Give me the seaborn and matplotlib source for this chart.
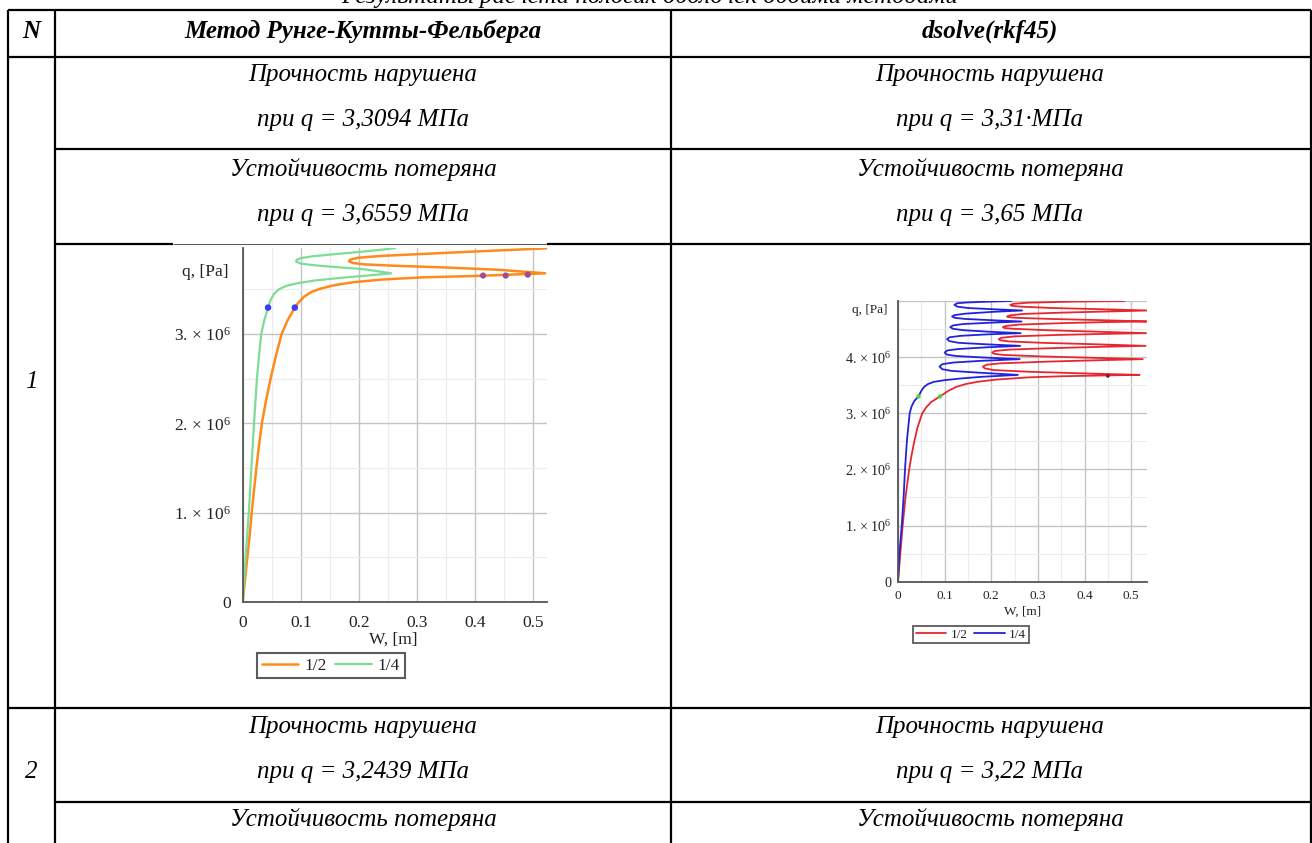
import numpy as np
import pandas as pd
import matplotlib
matplotlib.use("Agg")
import matplotlib.pyplot as plt
import seaborn as sns
from matplotlib.lines import Line2D
from matplotlib.ticker import MultipleLocator, FuncFormatter

# ---------------- data ----------------
title_text = "Результаты расчета пологих оболочек обоими методами"
col_headers = ["N", "Метод Рунге-Кутты-Фельберга", "dsolve(rkf45)"]
row_numbers = ["1", "2"]
rkf_texts = ["Прочность нарушена", "при q = 3,3094 МПа",
             "Устойчивость потеряна", "при q = 3,6559 МПа",
             "Прочность нарушена", "при q = 3,2439 МПа",
             "Устойчивость потеряна"]
dsolve_texts = ["Прочность нарушена", "при q = 3,31·МПа",
                "Устойчивость потеряна", "при q = 3,65 МПа",
                "Прочность нарушена", "при q = 3,22 МПа",
                "Устойчивость потеряна"]
legend_labels = ["1/2", "1/4"]

# left plot (Runge-Kutta-Fehlberg): W in m, q in MPa
rkf_half_W = [0, 0.004, 0.008, 0.012, 0.0155, 0.0195, 0.0235, 0.028, 0.033, 0.040,
              0.048, 0.057, 0.067, 0.077, 0.0897, 0.097, 0.106, 0.118, 0.135, 0.16,
              0.19, 0.24, 0.31, 0.40, 0.46, 0.521,
              0.44, 0.35, 0.26, 0.21, 0.19, 0.183, 0.186, 0.2, 0.24, 0.32, 0.42, 0.524]
rkf_half_q = [0, 0.25, 0.5, 0.75, 1.0, 1.25, 1.5, 1.75, 2.0, 2.25,
              2.5, 2.75, 3.0, 3.15, 3.296, 3.36, 3.42, 3.47, 3.51, 3.55,
              3.58, 3.61, 3.635, 3.65, 3.665, 3.68,
              3.72, 3.745, 3.765, 3.78, 3.795, 3.815, 3.835, 3.855, 3.875, 3.90, 3.93, 3.96]
rkf_quarter_W = [0, 0.005, 0.0105, 0.015, 0.0195, 0.0245, 0.028, 0.032, 0.037, 0.0437,
                 0.048, 0.054, 0.062, 0.075, 0.095, 0.125, 0.17, 0.215, 0.256,
                 0.21, 0.16, 0.12, 0.10, 0.092, 0.093, 0.10, 0.12, 0.16, 0.21, 0.262]
rkf_quarter_q = [0, 0.5, 1.0, 1.5, 2.0, 2.5, 2.75, 3.0, 3.15, 3.296,
                 3.38, 3.45, 3.50, 3.54, 3.57, 3.60, 3.63, 3.655, 3.68,
                 3.725, 3.75, 3.772, 3.79, 3.81, 3.83, 3.85, 3.87, 3.895, 3.925, 3.96]
rkf_strength_W = [0.0437, 0.0897]
rkf_strength_q = [3.296, 3.296]
rkf_stab_W = [0.414, 0.453, 0.491]
rkf_stab_q = [3.655, 3.655, 3.665]

# right plot (dsolve rkf45): W in m, q in MPa
ds_half_W = [0, 0.005, 0.01, 0.016, 0.024, 0.029, 0.035, 0.042, 0.052, 0.060, 0.071,
             0.09, 0.108, 0.125,
             0.145, 0.17, 0.21, 0.28, 0.354, 0.45, 0.518,
             0.40, 0.28, 0.205, 0.186, 0.182, 0.19, 0.22, 0.32, 0.43, 0.525,
             0.41, 0.30, 0.225, 0.206, 0.202, 0.208, 0.24, 0.33, 0.44, 0.531,
             0.42, 0.31, 0.238, 0.219, 0.216, 0.222, 0.25, 0.34, 0.45, 0.532,
             0.42, 0.32, 0.247, 0.228, 0.225, 0.231, 0.26, 0.35, 0.45, 0.533,
             0.43, 0.33, 0.255, 0.237, 0.234, 0.24, 0.27, 0.36, 0.46, 0.536,
             0.43, 0.33, 0.262, 0.244, 0.241, 0.248, 0.28, 0.38, 0.486]
ds_half_q = [0, 0.5, 1.0, 1.5, 2.0, 2.25, 2.5, 2.75, 3.0, 3.1, 3.2,
             3.30, 3.40, 3.47,
             3.52, 3.56, 3.60, 3.64, 3.66, 3.675, 3.684,
             3.71, 3.74, 3.77, 3.80, 3.832, 3.865, 3.89, 3.92, 3.945, 3.964,
             3.99, 4.015, 4.04, 4.06, 4.082, 4.11, 4.135, 4.16, 4.185, 4.201,
             4.23, 4.255, 4.28, 4.30, 4.321, 4.345, 4.37, 4.395, 4.415, 4.427,
             4.455, 4.48, 4.505, 4.52, 4.535, 4.555, 4.58, 4.605, 4.625, 4.635,
             4.66, 4.68, 4.70, 4.712, 4.724, 4.745, 4.77, 4.795, 4.815, 4.831,
             4.855, 4.875, 4.90, 4.915, 4.932, 4.95, 4.97, 4.99, 5.0]
ds_quarter_W = [0, 0.003, 0.008, 0.012, 0.015, 0.019, 0.022, 0.025, 0.029, 0.035, 0.044, 0.050,
                0.056, 0.064, 0.077, 0.10, 0.135, 0.18, 0.257,
                0.17, 0.115, 0.095, 0.089, 0.095, 0.12, 0.18, 0.261,
                0.18, 0.125, 0.105, 0.100, 0.106, 0.13, 0.19, 0.262,
                0.185, 0.13, 0.11, 0.105, 0.111, 0.135, 0.19, 0.263,
                0.19, 0.14, 0.118, 0.112, 0.118, 0.14, 0.195, 0.265,
                0.195, 0.145, 0.122, 0.116, 0.122, 0.145, 0.2, 0.266,
                0.2, 0.15, 0.127, 0.121, 0.127, 0.15, 0.2, 0.243]
ds_quarter_q = [0, 0.5, 1.0, 1.5, 2.0, 2.5, 2.75, 3.0, 3.12, 3.22, 3.30, 3.40,
                3.47, 3.52, 3.56, 3.59, 3.62, 3.65, 3.684,
                3.725, 3.755, 3.785, 3.832, 3.875, 3.905, 3.935, 3.964,
                3.995, 4.02, 4.045, 4.082, 4.12, 4.145, 4.175, 4.201,
                4.23, 4.255, 4.285, 4.321, 4.355, 4.38, 4.405, 4.427,
                4.455, 4.48, 4.505, 4.535, 4.565, 4.59, 4.612, 4.635,
                4.66, 4.68, 4.70, 4.724, 4.75, 4.775, 4.805, 4.831,
                4.855, 4.875, 4.90, 4.932, 4.96, 4.975, 4.99, 5.0]
ds_strength_W = [0.044, 0.09]
ds_strength_q = [3.30, 3.30]
ds_stab_W = [0.45]
ds_stab_q = [3.667]

# ---------------- style ----------------
sns.set_theme(style="white")
plt.rcParams['font.family'] = ['Liberation Serif', 'DejaVu Serif']
plt.rcParams['mathtext.fontset'] = 'custom'
plt.rcParams['mathtext.rm'] = 'Liberation Serif'
plt.rcParams['mathtext.it'] = 'Liberation Serif:italic'
plt.rcParams['text.color'] = 'black'

W_PX, H_PX = 1312, 843
fig = plt.figure(figsize=(W_PX / 100, H_PX / 100), dpi=100)
fig.patch.set_facecolor('white')


def fx(x):
    return x / W_PX


def fy(y):
    return 1 - y / H_PX


def hline(y, x0, x1, lw=1.6, color='black'):
    fig.add_artist(Line2D([fx(x0), fx(x1)], [fy(y), fy(y)], transform=fig.transFigure,
                          color=color, lw=lw, solid_capstyle='butt'))


def vline(x, y0, y1, lw=1.6, color='black'):
    fig.add_artist(Line2D([fx(x), fx(x)], [fy(y0), fy(y1)], transform=fig.transFigure,
                          color=color, lw=lw, solid_capstyle='butt'))


def ftext(x, y, s, **kw):
    fig.text(fx(x), fy(y), s, ha='center', va='center', **kw)


# ---------------- table ----------------
XL, XN, XM, XR = 8.3, 55, 671, 1311
hline(10, XL - 0.8, XR)
hline(56.7, XL - 0.8, XR)
hline(149.3, XN, XR)
hline(244, XN, 173)
hline(244, 173, 547, lw=0.7, color='#555555')
hline(244, 547, XR)
hline(708, XL - 0.8, XR)
hline(801.7, XN, XR)
for xv in (XL, XN, XM, XR):
    vline(xv, 10, H_PX)

fig.text(fx(650), fy(3), title_text, ha='center', va='baseline',
         fontsize=18, style='italic', color='black')

hdr_kw = dict(fontsize=18, style='italic', weight='bold', color='black')
ftext(31.7, 31, col_headers[0], **hdr_kw)
ftext(363, 31, col_headers[1], **hdr_kw)
ftext(990, 31, col_headers[2], **hdr_kw)

txt_kw = dict(fontsize=18, style='italic', color='black')
row_y = [75, 120, 170, 215, 727, 772, 820]
for yv, s1, s2 in zip(row_y, rkf_texts, dsolve_texts):
    ftext(363, yv, s1, **txt_kw)
    ftext(990, yv, s2, **txt_kw)
ftext(31.7, 382, row_numbers[0], **txt_kw)
ftext(31.7, 772, row_numbers[1], **txt_kw)


# ---------------- plots ----------------
def style_axes(ax, xmax, ymax, fs, ylabel_max):
    ax.set_xlim(0, xmax)
    ax.set_ylim(0, ymax)
    ax.set_facecolor('white')
    for side in ('top', 'right'):
        ax.spines[side].set_visible(False)
    for side in ('left', 'bottom'):
        ax.spines[side].set_color('#555555')
        ax.spines[side].set_linewidth(1.3)
    ax.xaxis.set_major_locator(MultipleLocator(0.1))
    ax.xaxis.set_minor_locator(MultipleLocator(0.05))
    ax.yaxis.set_major_locator(MultipleLocator(1e6))
    ax.yaxis.set_minor_locator(MultipleLocator(0.5e6))
    ax.grid(True, which='major', color='#c4c4c4', lw=1.0)
    ax.grid(True, which='minor', color='#ececec', lw=0.8)
    ax.set_axisbelow(True)
    ax.xaxis.set_major_formatter(FuncFormatter(lambda v, p: '0' if abs(v) < 1e-9 else f"{v:.1f}"))

    def yfmt(v, p):
        if abs(v) < 1:
            return '0'
        if v > ylabel_max + 1:
            return ''
        return f"{int(round(v / 1e6))}. × $10^{{6}}$"
    ax.yaxis.set_major_formatter(FuncFormatter(yfmt))
    ax.tick_params(which='major', direction='inout', length=5, width=1.0,
                   color='#555555', labelsize=fs, labelcolor='#222222', pad=3)
    ax.tick_params(which='minor', direction='inout', length=3, width=0.8, color='#555555')
    ax.set_xlabel('')
    ax.set_ylabel('')


# left
ax1 = fig.add_axes([fx(242.7), fy(602), 304 / W_PX, 353.7 / H_PX])
df_l1 = pd.DataFrame({'W': rkf_half_W, 'q': np.array(rkf_half_q) * 1e6})
df_l2 = pd.DataFrame({'W': rkf_quarter_W, 'q': np.array(rkf_quarter_q) * 1e6})
sns.lineplot(data=df_l1, x='W', y='q', sort=False, estimator=None, color='#ff8a1c',
             lw=1.8, ax=ax1, label=legend_labels[0])
sns.lineplot(data=df_l2, x='W', y='q', sort=False, estimator=None, color='#7ddc96',
             lw=1.6, ax=ax1, label=legend_labels[1])
sns.scatterplot(x=rkf_strength_W, y=np.array(rkf_strength_q) * 1e6, color='#3b3bef',
                s=22, edgecolor='none', ax=ax1, zorder=5, legend=False)
sns.scatterplot(x=rkf_stab_W, y=np.array(rkf_stab_q) * 1e6, color='#9a4f8f',
                s=20, edgecolor='none', ax=ax1, zorder=5, legend=False)
style_axes(ax1, 0.5236, 3.96e6, 12.5, 3e6)
ax1.tick_params(axis='y', pad=6)
ax1.tick_params(axis='x', pad=7)
leg1 = ax1.legend(loc='center', bbox_to_anchor=(fx(331), fy(665.5)), bbox_transform=fig.transFigure,
                  ncol=2, frameon=True, fancybox=False, edgecolor='#333333', fontsize=12.5,
                  handlelength=2.1, handletextpad=0.35, columnspacing=0.5, borderpad=0.25,
                  borderaxespad=0)
leg1.get_frame().set_linewidth(1.5)
for t in leg1.get_texts():
    t.set_color('#222222')
ftext(205, 272, 'q, [Pa]', fontsize=12.5, color='#222222')
ftext(393, 640, 'W, [m]', fontsize=12.5, color='#222222')

# right
ax2 = fig.add_axes([fx(898), fy(581.7), 249 / W_PX, 280.7 / H_PX])
df_r1 = pd.DataFrame({'W': ds_half_W, 'q': np.array(ds_half_q) * 1e6})
df_r2 = pd.DataFrame({'W': ds_quarter_W, 'q': np.array(ds_quarter_q) * 1e6})
sns.lineplot(data=df_r1, x='W', y='q', sort=False, estimator=None, color='#e8262e',
             lw=1.3, ax=ax2, label=legend_labels[0])
sns.lineplot(data=df_r2, x='W', y='q', sort=False, estimator=None, color='#2222dd',
             lw=1.3, ax=ax2, label=legend_labels[1])
sns.scatterplot(x=ds_strength_W, y=np.array(ds_strength_q) * 1e6, color='#55cc44',
                s=10, edgecolor='none', ax=ax2, zorder=5, legend=False)
sns.scatterplot(x=ds_stab_W, y=np.array(ds_stab_q) * 1e6, color='#7a2030',
                s=8, edgecolor='none', ax=ax2, zorder=5, legend=False)
style_axes(ax2, 0.534, 5.0e6, 9.5, 4e6)
ax2.tick_params(axis='y', labelsize=10.2)
ax2.tick_params(which='major', length=4)
ax2.tick_params(which='minor', length=2.5)
ax2.tick_params(axis='y', pad=3)
ax2.tick_params(axis='x', pad=4)
leg2 = ax2.legend(loc='center', bbox_to_anchor=(fx(971), fy(634.5)), bbox_transform=fig.transFigure,
                  ncol=2, frameon=True, fancybox=False, edgecolor='#333333', fontsize=9.5,
                  handlelength=2.3, handletextpad=0.35, columnspacing=0.5, borderpad=0.2,
                  borderaxespad=0)
leg2.get_frame().set_linewidth(1.3)
for t in leg2.get_texts():
    t.set_color('#222222')
ftext(870, 310, 'q, [Pa]', fontsize=9.5, color='#222222')
ftext(1023, 612, 'W, [m]', fontsize=9.5, color='#222222')

fig.savefig('out.png', dpi=100, facecolor='white')
